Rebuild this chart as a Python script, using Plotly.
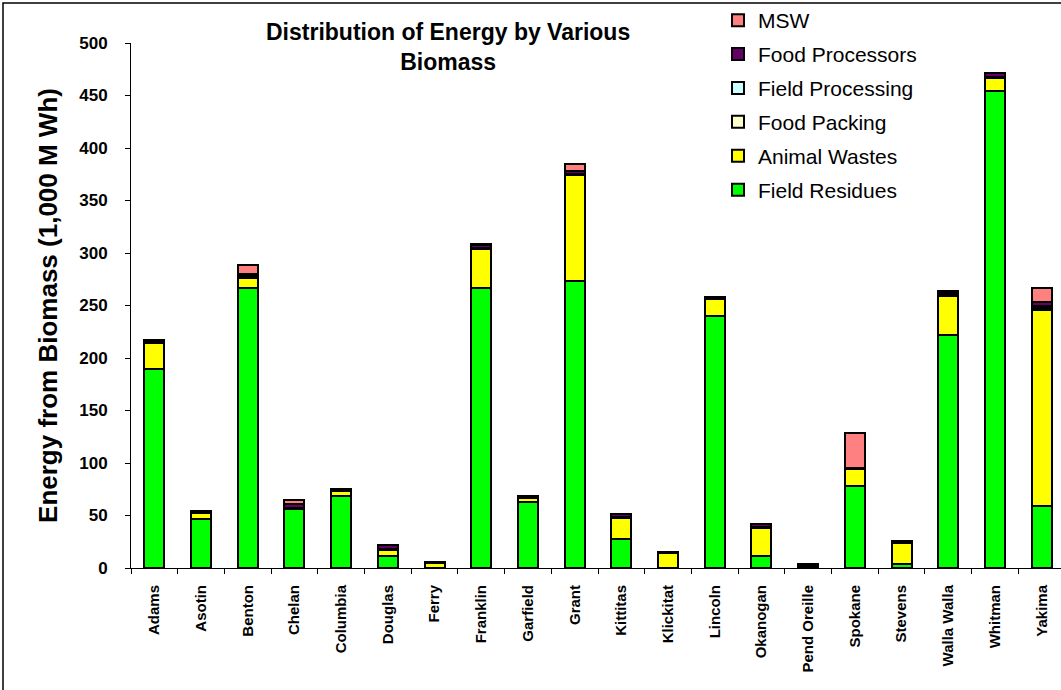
import plotly.graph_objects as go

# Counties along the x axis
counties = ["Adams", "Asotin", "Benton", "Chelan", "Columbia", "Douglas", "Ferry",
            "Franklin", "Garfield", "Grant", "Kittitas", "Klickitat", "Lincoln",
            "Okanogan", "Pend Oreille", "Spokane", "Stevens", "Walla Walla",
            "Whitman", "Yakima"]

# Energy by biomass source (1,000 MWh)
field_residues = [190, 47, 267, 56, 69, 11, 0.2, 267, 62.5, 273, 28, 0.3, 240, 11,
                  1, 78, 4, 222, 454, 59]
animal_wastes = [24, 5, 9, 0.5, 4, 6, 5, 37, 4.5, 101, 20, 14, 16, 27, 1.5, 16, 19.5,
                 37, 13, 187]
food_packing = [0.5, 0.5, 1, 0.5, 0.3, 0.5, 0.1, 0.5, 0.3, 0.5, 0.5, 0.2, 0.3, 0.5,
                0.2, 0.3, 0.3, 0.5, 0.5, 2]
field_processing = [0.5, 0.5, 1, 0.5, 0.3, 0.5, 0.1, 0.5, 0.3, 0.5, 0.5, 0.2, 0.3,
                    0.5, 0.2, 0.3, 0.3, 0.5, 0.5, 2]
food_processors = [1.5, 1, 2, 3, 1, 3.5, 0.5, 3, 1, 3, 2, 0.8, 1, 3, 0.8, 0.5, 1.5,
                   1.5, 3, 3]
msw = [0.5, 0.3, 9, 4, 0.2, 0.3, 0.1, 0.5, 0.2, 7, 0.2, 0.2, 0.3, 0.3, 0.2, 33.5, 0.3,
       2, 0.5, 14]

series = [
    ("Field Residues", field_residues, "#00FF00"),
    ("Animal Wastes", animal_wastes, "#FFFF00"),
    ("Food Packing", food_packing, "#FFFFCC"),
    ("Field Processing", field_processing, "#CCFFFF"),
    ("Food Processors", food_processors, "#660066"),
    ("MSW", msw, "#FF8080"),
]

W, H = 1061, 690
L, R, T, B = 131, 0, 43, 122
pw, ph = W - L - R, H - T - B

def px_x(x):
    return (x - L) / pw

def px_y(y):
    return (H - B - y) / ph

fig = go.Figure()
for i, (name, vals, color) in enumerate(series):
    fig.add_trace(go.Bar(
        x=counties, y=vals, name=name, legendgroup=name,
        legendrank=100 - i,
        marker=dict(color=color, line=dict(color="black", width=2)),
    ))

font_family = "Liberation Sans, Arial, sans-serif"

fig.update_layout(
    width=W, height=H,
    margin=dict(l=L, r=R, t=T, b=B, autoexpand=False),
    barmode="stack", bargap=0.57,
    plot_bgcolor="white", paper_bgcolor="white",
    font=dict(family=font_family, color="black"),
    showlegend=True,
    legend=dict(
        x=px_x(718), y=px_y(0), xanchor="left", yanchor="top",
        traceorder="grouped", tracegroupgap=3.6,
        font=dict(size=21, family=font_family, color="black"),
        bgcolor="rgba(0,0,0,0)",
    ),
    xaxis=dict(
        range=[-0.5, -0.5 + pw / 46.7],
        showline=True, linecolor="black", linewidth=1,
        ticks="outside", tickson="boundaries", ticklen=5, tickcolor="black",
        tickangle=-90, ticklabelstandoff=10,
        tickfont=dict(size=15, family=font_family, weight="bold"),
        showgrid=False, zeroline=False,
    ),
    yaxis=dict(
        range=[0, 500], dtick=50,
        showline=True, linecolor="black", linewidth=1,
        ticks="outside", ticklen=5, tickcolor="black",
        ticklabelstandoff=14,
        tickfont=dict(size=17, family=font_family, weight="bold"),
        showgrid=False, zeroline=False,
        title=dict(text="Energy from Biomass (1,000 M Wh)", standoff=14,
                   font=dict(size=26, family=font_family, weight="bold")),
    ),
    annotations=[dict(
        text="<b>Distribution of Energy by Various<br>Biomass</b>",
        x=px_x(448), y=px_y(47), xref="paper", yref="paper",
        xanchor="center", yanchor="middle", showarrow=False,
        font=dict(size=23, family=font_family, color="black"),
    )],
    shapes=[dict(
        type="rect", xref="paper", yref="paper",
        x0=px_x(3), x1=px_x(W + 20), y0=px_y(H + 20), y1=px_y(3),
        line=dict(color="black", width=1.5), fillcolor="rgba(0,0,0,0)",
        layer="below",
    )],
)

fig.write_html("out.html")
